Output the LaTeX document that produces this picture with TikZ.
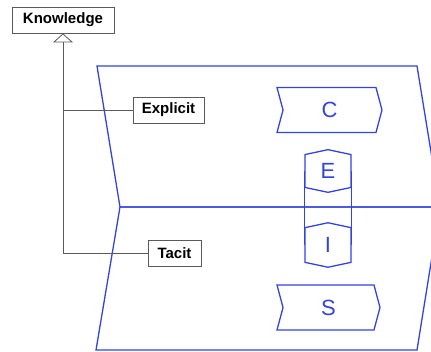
\documentclass[tikz,border=0pt]{standalone}
\usepackage{fontspec}
\setmainfont{Liberation Sans}
\usetikzlibrary{arrows.meta, shapes.symbols}
\definecolor{mBlue}{HTML}{3344DD}
\definecolor{mGray}{HTML}{5A5A5A}

\begin{document}
\begin{tikzpicture}[x=1pt, y=-1pt,
      lbl/.style={draw=mGray, line width=0.8pt, inner sep=0pt, minimum height=26pt,
        font=\fontsize{15}{17}\selectfont\bfseries},
      sig/.style={shape=signal, draw=mBlue, line width=1.3pt, text=mBlue, inner sep=0pt,
        font=\fontsize{22}{24}\selectfont},
      plane/.style={draw=mBlue, line width=1.3pt}]
    \useasboundingbox (0,0) rectangle (431,351);
    \clip (0,0) rectangle (431,351);
    % the two planes
    \draw[plane] (97,66) -- (417,66) -- (440,207) -- (120,207) -- cycle;
    \draw[plane] (120,207) -- (440,207) -- (417,350) -- (96,350) -- cycle;
    % knowledge tree
    \node[lbl, minimum width=102pt] (know) at (63,20) {Knowledge};
    \node[lbl, minimum width=71pt] (expl) at (168.5,110) {Explicit};
    \node[lbl, minimum width=53pt] (tacit) at (174.5,253) {Tacit};
    \draw[mGray, line width=0.8pt, -{Triangle[open, length=9pt, width=20pt]}]
      (tacit.west -| know.south) -- (know.south);
    \draw[mGray, line width=0.8pt] (expl.west) -- (expl.west -| know.south);
    \draw[mGray, line width=0.8pt] (tacit.west) -- (tacit.west -| know.south);
    % signals
    \node[sig, signal from=west, signal to=east, signal pointer angle=150,
      minimum width=105pt, minimum height=45pt] (C) at (329.5,110) {C};
    \node[sig, signal from=west, signal to=east, signal pointer angle=150,
      minimum width=103pt, minimum height=45pt] (S) at (328.5,307.5) {S};
    \node[sig, signal from=nowhere, signal to=north and south, signal pointer angle=156,
      minimum width=46pt, minimum height=36pt] (E) at (328,171) {E};
    \node[sig, signal from=nowhere, signal to=north and south, signal pointer angle=156,
      minimum width=46pt, minimum height=36pt] (I) at (328,245) {I};
    \draw[mBlue, line width=1.3pt] (E.west) -- (I.west);
    \draw[mBlue, line width=1.3pt] (E.east) -- (I.east);
\end{tikzpicture}
\end{document}
